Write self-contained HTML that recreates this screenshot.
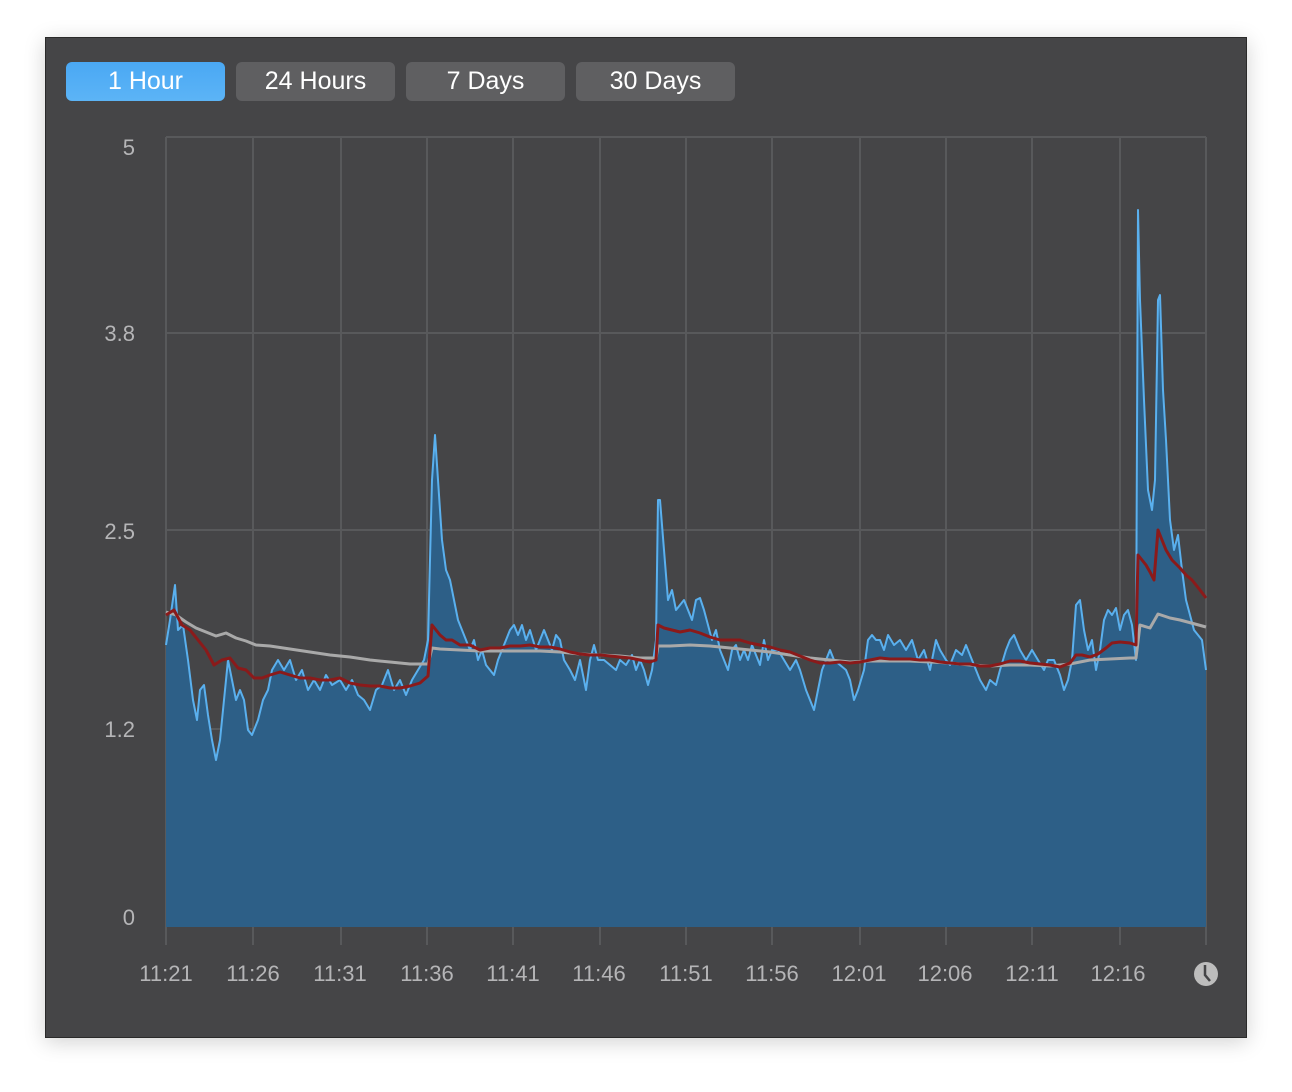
<!DOCTYPE html>
<html><head><meta charset="utf-8"><style>
html,body{margin:0;padding:0;background:#fff;}
body{width:1292px;height:1092px;position:relative;overflow:hidden;font-family:"Liberation Sans",sans-serif;}
.win{position:absolute;left:45px;top:37px;width:1200px;height:999px;background:#454547;border:1px solid #2a2a2a;box-shadow:0 4px 20px rgba(0,0,0,0.18);}
.btn{position:absolute;top:62px;height:39px;width:159px;border-radius:6px;background:#5f5f61;color:#fff;font-size:25px;line-height:39px;text-align:center;}
.btn.on{background:linear-gradient(#4aa8f4,#5cb4f6);}
</style></head><body>
<div class="win"></div>
<div class="btn on" style="left:66px">1 Hour</div>
<div class="btn" style="left:236px">24 Hours</div>
<div class="btn" style="left:406px">7 Days</div>
<div class="btn" style="left:576px">30 Days</div>
<svg width="1292" height="1092" style="position:absolute;left:0;top:0" font-family="Liberation Sans, sans-serif">
<g stroke="#58595b" stroke-width="2" fill="none">
<line x1="166" y1="137" x2="1206" y2="137"/>
<line x1="166" y1="333" x2="1206" y2="333"/>
<line x1="166" y1="530" x2="1206" y2="530"/>
<line x1="166" y1="729" x2="1206" y2="729"/>
<line x1="166" y1="137" x2="166" y2="945"/><line x1="253" y1="137" x2="253" y2="945"/><line x1="341" y1="137" x2="341" y2="945"/><line x1="427" y1="137" x2="427" y2="945"/><line x1="513" y1="137" x2="513" y2="945"/><line x1="600" y1="137" x2="600" y2="945"/><line x1="686" y1="137" x2="686" y2="945"/><line x1="772" y1="137" x2="772" y2="945"/><line x1="860" y1="137" x2="860" y2="945"/><line x1="946" y1="137" x2="946" y2="945"/><line x1="1032" y1="137" x2="1032" y2="945"/><line x1="1120" y1="137" x2="1120" y2="945"/><line x1="1206" y1="137" x2="1206" y2="945"/>
</g>
<g fill="#b5b5b7" font-size="22" text-anchor="end">
<text x="135" y="155">5</text><text x="135" y="341">3.8</text><text x="135" y="539">2.5</text><text x="135" y="737">1.2</text><text x="135" y="925">0</text>
</g>
<g fill="#b5b5b7" font-size="22" text-anchor="middle">
<text x="166" y="981">11:21</text><text x="253" y="981">11:26</text><text x="340" y="981">11:31</text><text x="427" y="981">11:36</text><text x="513" y="981">11:41</text><text x="599" y="981">11:46</text><text x="686" y="981">11:51</text><text x="772" y="981">11:56</text><text x="859" y="981">12:01</text><text x="945" y="981">12:06</text><text x="1032" y="981">12:11</text><text x="1118" y="981">12:16</text>
</g>
<circle cx="1206" cy="974" r="12" fill="#bdbdbd"/>
<path d="M1205 965 L1205 975 L1210 981" stroke="#454547" stroke-width="2.5" fill="none"/>
<polygon fill="#2d5f87" points="166,927 166,645 170,620 175,585 178,630 183,625 188,660 193,700 197,720 200,690 204,685 208,715 212,740 216,760 220,740 224,700 228,660 232,680 236,700 240,690 244,700 248,730 252,735 258,720 263,700 268,690 272,670 278,660 284,670 290,660 296,680 302,670 308,690 314,680 320,690 326,675 332,685 340,680 346,690 352,680 358,695 364,700 370,710 376,690 382,685 388,670 394,690 400,680 406,695 412,680 418,670 424,660 428,640 432,480 435,435 438,480 442,540 446,570 450,580 454,600 458,620 462,630 466,640 470,650 474,640 478,660 482,650 486,665 490,670 494,675 498,660 502,650 506,640 510,630 514,625 518,635 522,625 526,640 530,630 536,650 540,640 544,630 548,640 552,650 556,635 560,640 564,660 570,670 575,680 580,660 586,690 590,660 594,645 598,660 604,660 610,665 616,670 620,660 626,665 632,655 636,670 640,660 644,670 648,685 652,670 656,640 658,500 660,500 664,550 668,600 672,590 676,610 680,605 684,600 688,610 692,620 696,600 700,598 704,610 708,625 712,640 716,630 720,650 724,660 728,670 732,650 736,645 740,660 744,650 748,660 752,645 756,655 760,665 764,640 768,660 772,650 778,650 784,660 790,670 796,660 800,670 806,690 810,700 814,710 818,690 822,670 826,660 830,650 834,660 840,665 846,670 850,680 854,700 858,690 864,670 868,640 872,635 876,640 880,640 884,650 888,635 894,645 900,640 906,650 912,640 918,660 924,650 930,670 936,640 940,650 946,660 950,665 956,650 962,655 966,645 972,660 976,670 980,680 986,690 990,680 996,685 1000,670 1006,650 1010,640 1014,635 1020,650 1026,660 1032,650 1038,660 1044,670 1048,660 1054,660 1060,675 1064,690 1068,680 1072,660 1076,605 1080,600 1084,630 1088,650 1092,640 1096,670 1100,650 1104,620 1108,610 1112,615 1116,608 1120,630 1124,615 1128,610 1132,625 1136,660 1138,210 1140,300 1144,400 1148,490 1152,510 1155,480 1158,300 1160,295 1163,390 1166,440 1170,520 1174,550 1178,535 1182,570 1186,600 1190,615 1194,630 1198,635 1202,640 1206,670 1206,927"/>
<polyline fill="none" stroke="#5ab0ee" stroke-width="2" stroke-linejoin="round" points="166,645 170,620 175,585 178,630 183,625 188,660 193,700 197,720 200,690 204,685 208,715 212,740 216,760 220,740 224,700 228,660 232,680 236,700 240,690 244,700 248,730 252,735 258,720 263,700 268,690 272,670 278,660 284,670 290,660 296,680 302,670 308,690 314,680 320,690 326,675 332,685 340,680 346,690 352,680 358,695 364,700 370,710 376,690 382,685 388,670 394,690 400,680 406,695 412,680 418,670 424,660 428,640 432,480 435,435 438,480 442,540 446,570 450,580 454,600 458,620 462,630 466,640 470,650 474,640 478,660 482,650 486,665 490,670 494,675 498,660 502,650 506,640 510,630 514,625 518,635 522,625 526,640 530,630 536,650 540,640 544,630 548,640 552,650 556,635 560,640 564,660 570,670 575,680 580,660 586,690 590,660 594,645 598,660 604,660 610,665 616,670 620,660 626,665 632,655 636,670 640,660 644,670 648,685 652,670 656,640 658,500 660,500 664,550 668,600 672,590 676,610 680,605 684,600 688,610 692,620 696,600 700,598 704,610 708,625 712,640 716,630 720,650 724,660 728,670 732,650 736,645 740,660 744,650 748,660 752,645 756,655 760,665 764,640 768,660 772,650 778,650 784,660 790,670 796,660 800,670 806,690 810,700 814,710 818,690 822,670 826,660 830,650 834,660 840,665 846,670 850,680 854,700 858,690 864,670 868,640 872,635 876,640 880,640 884,650 888,635 894,645 900,640 906,650 912,640 918,660 924,650 930,670 936,640 940,650 946,660 950,665 956,650 962,655 966,645 972,660 976,670 980,680 986,690 990,680 996,685 1000,670 1006,650 1010,640 1014,635 1020,650 1026,660 1032,650 1038,660 1044,670 1048,660 1054,660 1060,675 1064,690 1068,680 1072,660 1076,605 1080,600 1084,630 1088,650 1092,640 1096,670 1100,650 1104,620 1108,610 1112,615 1116,608 1120,630 1124,615 1128,610 1132,625 1136,660 1138,210 1140,300 1144,400 1148,490 1152,510 1155,480 1158,300 1160,295 1163,390 1166,440 1170,520 1174,550 1178,535 1182,570 1186,600 1190,615 1194,630 1198,635 1202,640 1206,670"/>
<polyline fill="none" stroke="#a9a9a9" stroke-width="3" stroke-linejoin="round" points="166,612 176,615 186,622 196,628 206,632 216,636 226,633 236,638 246,641 256,645 270,646 290,649 310,652 330,655 350,657 370,660 390,662 410,664 428,664 432,648 440,649 460,650 480,651 500,651 520,651 540,651 560,652 580,654 600,655 620,656 640,658 656,658 658,646 670,646 690,645 710,646 730,648 750,650 770,652 790,655 810,658 830,660 850,662 870,661 890,661 910,661 930,662 950,663 970,665 990,666 1010,665 1030,665 1050,666 1070,664 1090,660 1110,659 1130,658 1136,658 1140,625 1150,628 1158,614 1170,618 1180,620 1195,624 1206,627"/>
<polyline fill="none" stroke="#8b1a1a" stroke-width="3" stroke-linejoin="round" points="166,615 174,610 182,625 190,630 198,640 206,650 214,665 222,660 230,658 238,668 246,670 254,678 262,678 270,675 280,672 290,675 300,678 310,678 320,680 330,680 340,678 350,683 360,685 370,686 380,686 390,688 400,688 410,686 420,683 428,676 432,625 436,630 440,635 446,640 452,640 460,645 470,645 480,650 490,648 500,648 510,646 520,646 530,645 540,647 550,647 560,649 570,652 580,654 590,655 600,655 610,656 620,657 630,658 640,660 650,662 656,660 658,625 664,628 672,630 680,632 690,630 700,633 710,637 720,640 730,640 740,640 750,643 760,645 770,647 780,650 790,652 800,656 810,660 820,663 830,663 840,662 850,663 860,662 870,660 880,658 890,659 900,659 910,659 920,660 930,660 940,662 950,663 960,664 970,664 980,666 990,666 1000,664 1010,661 1020,661 1030,663 1040,664 1050,665 1060,667 1070,663 1076,655 1082,655 1090,657 1098,654 1106,648 1112,643 1120,642 1130,643 1136,645 1138,555 1142,560 1146,565 1150,572 1154,580 1158,530 1162,540 1166,550 1172,560 1180,568 1186,575 1192,580 1200,590 1206,598"/>
</svg>
</body></html>
